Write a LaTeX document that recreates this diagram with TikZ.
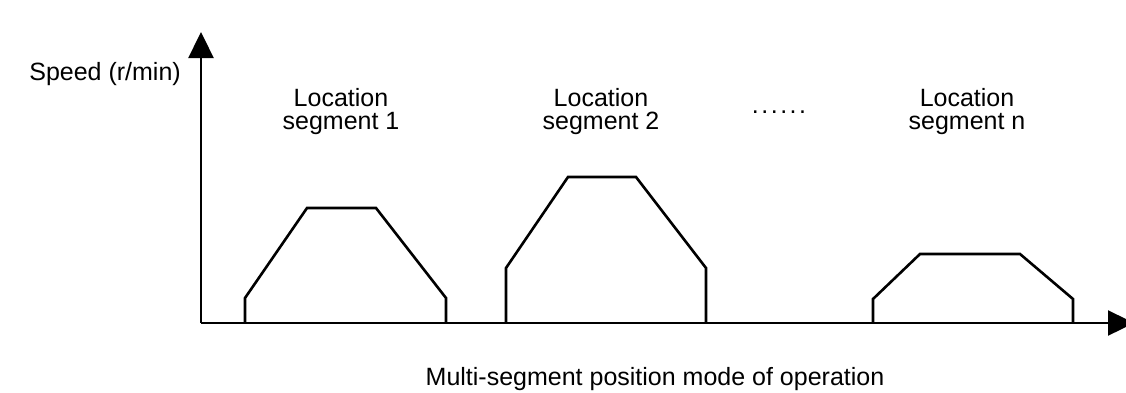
\documentclass[tikz,border=0pt]{standalone}
\usepackage{fontspec}
\setmainfont{Liberation Sans}
\usetikzlibrary{arrows.meta}
\begin{document}
\begin{tikzpicture}[x=1pt,y=-1pt,
  axis/.style={line width=2.4pt,-{Triangle[length=26pt,width=25pt]}},
  profile/.style={line width=2.6pt,line join=miter},
  lbl/.style={font=\fontsize{25}{23}\selectfont,align=center,inner sep=0pt}]
\useasboundingbox[fill=white] (0,0) rectangle (1126,392);
\coordinate (O) at (201,323);
\coordinate (ytip) at (201,32);
\coordinate (xtip) at (1134,323);
\draw[axis] (O) -- (ytip);
\draw[axis] (O) -- (xtip);
% profiles
\draw[profile] (245,323) -- (245,298) -- (307,208) -- (376,208) -- (446,298) -- (446,323);
\draw[profile] (506,323) -- (506,268) -- (568,177) -- (636,177) -- (706,268) -- (706,323);
\draw[profile] (873,323) -- (873,299) -- (920,254) -- (1020,254) -- (1073,299) -- (1073,323);
% labels
\node[lbl,anchor=base east] (ylab) at (181,80) {Speed (r/min)};
\node[lbl,anchor=center] (s1) at (341,112) {Location\\segment 1};
\node[lbl,anchor=center] (s2) at (601,112) {Location\\segment 2};
\node[lbl,anchor=center] (sn) at (967,112) {Location\\segment n};
\node[lbl,anchor=base] (dots) at (779,113) {\addfontfeature{LetterSpace=10}......};
\node[lbl,anchor=base] (xlab) at (655,385) {Multi-segment position mode of operation};
\end{tikzpicture}
\end{document}
